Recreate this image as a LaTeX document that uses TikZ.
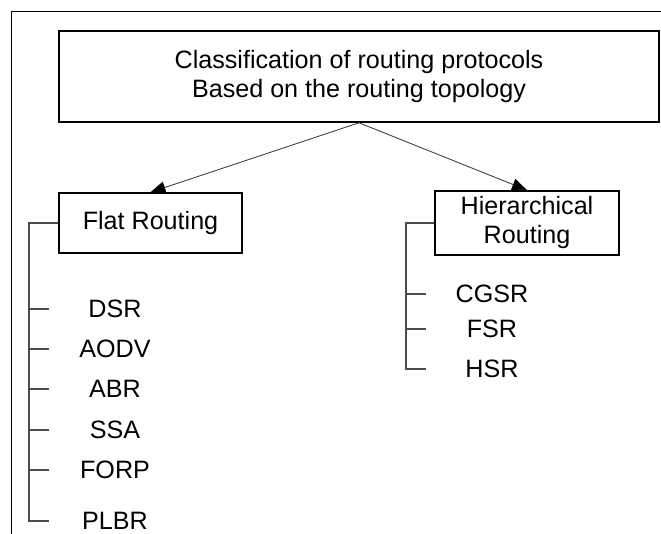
\documentclass[tikz,border=0pt]{standalone}
\usepackage{fontspec}
\setmainfont{Liberation Sans}
\usetikzlibrary{arrows.meta}

\begin{document}
\begin{tikzpicture}[
        box/.style={draw, line width=0.9pt, align=center, font=\fontsize{14.3}{16.5}\selectfont},
        leaf/.style={font=\fontsize{14.3}{16.5}\selectfont},
        branch/.style={draw=black!70, line width=0.6pt},
        link/.style={draw=black!75, line width=0.5pt, -{Triangle[length=0.3cm, width=0.24cm, color=black, fill=black]}}
    ]
        \useasboundingbox (0,0) rectangle (13.22,10.68);

        % Frame
        \draw[line width=0.5pt] (0.22,0) -- (0.22,10.46) -- (13.22,10.46);

        % Boxes
        \node[box, minimum width=12cm, minimum height=1.82cm] (top) at (7.18,9.15) {Classification of routing protocols\\Based on the routing topology};
        \node[box, minimum width=3.66cm, minimum height=1.2cm] (flat) at (3.01,6.22) {Flat Routing};
        \node[box, minimum width=3.68cm, minimum height=1.2cm] (hier) at (10.54,6.22) {Hierarchical\\Routing};

        \draw[link] (top.south) -- (flat.north);
        \draw[link] (top.south) -- (hier.north);

        % Flat routing protocols
        \coordinate (flatbranch) at (0.58,6.22);
        \foreach \name/\y in {DSR/4.50, AODV/3.70, ABR/2.90, SSA/2.08, FORP/1.28, PLBR/0.26} {
            \node[leaf] (\name) at (2.30,\y) {\name};
            \coordinate (\name tick) at (0.98,\y);
        }
        \draw[branch] (flat.west) -- (flatbranch) |- (PLBRtick);
        \foreach \name in {DSR, AODV, ABR, SSA, FORP}
            \draw[branch] (flatbranch |- \name tick) -- (\name tick);

        % Hierarchical routing protocols
        \coordinate (hierbranch) at (8.12,6.22);
        \foreach \name/\y in {CGSR/4.80, FSR/4.10, HSR/3.30} {
            \node[leaf] (\name) at (9.84,\y) {\name};
            \coordinate (\name tick) at (8.52,\y);
        }
        \draw[branch] (hier.west) -- (hierbranch) |- (HSRtick);
        \foreach \name in {CGSR, FSR}
            \draw[branch] (hierbranch |- \name tick) -- (\name tick);
    \end{tikzpicture}
\end{document}
